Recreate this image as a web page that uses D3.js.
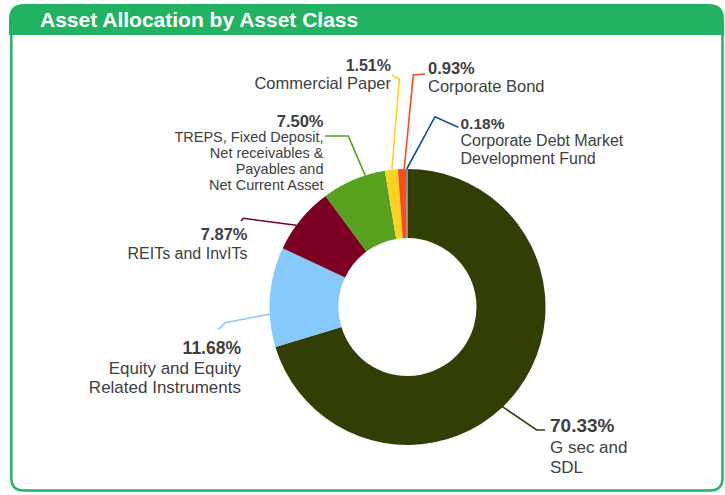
<!DOCTYPE html>
<html>
<head>
<meta charset="utf-8">
<script src="https://cdn.jsdelivr.net/npm/d3@7"></script>
<style>
  body { margin: 0; background: #fff; }
  svg { display: block; font-family: "Liberation Sans", Arial, sans-serif; }
</style>
</head>
<body>
<svg id="chart" width="725" height="495"></svg>
<script>
const title = 'Asset Allocation by Asset Class';
const categories = [
  'G sec and SDL',
  'Equity and Equity Related Instruments',
  'REITs and InvITs',
  'TREPS, Fixed Deposit, Net receivables & Payables and Net Current Asset',
  'Commercial Paper',
  'Corporate Bond',
  'Corporate Debt Market Development Fund'
];
const values = [70.33, 11.68, 7.87, 7.50, 1.51, 0.93, 0.18];
const labelLines = [
  ['G sec and', 'SDL'],
  ['Equity and Equity', 'Related Instruments'],
  ['REITs and InvITs'],
  ['TREPS, Fixed Deposit,', 'Net receivables &', 'Payables and', 'Net Current Asset'],
  ['Commercial Paper'],
  ['Corporate Bond'],
  ['Corporate Debt Market', 'Development Fund']
];
const colors = ['#323f04', '#86c9fc', '#7b0023', '#58a11f', '#fdd222', '#ff4b19', '#7d8590'];
const lineColors = ['#323f04', '#86c9fc', '#7b0023', '#58a11f', '#fdd222', '#ff4b19', '#0b4f97'];

// label layout: where along the slice the leader starts (t), leader bends, text spot
const layout = [
  { t: 0.54, r: 134, pts: [[536.7, 430], [545, 430]], x: 550, anchor: 'start', y: 432, pctSize: 19, size: 17, lh: 20.5 },
  { t: 0.33, r: 137, pts: [[225, 322.7], [218.3, 330]], x: 241, anchor: 'end', y: 354, pctSize: 17.5, size: 17, lh: 19.5 },
  { t: 0.39, r: 138, pts: [[243.3, 218.3], [241, 221]], x: 247.5, anchor: 'end', y: 240, pctSize: 16.5, size: 16, lh: 18.5 },
  { t: 0.69, r: 138, pts: [[348.3, 136], [325, 136]], x: 323.5, anchor: 'end', y: 126.5, pctSize: 16.5, size: 14.5, lh: 15.8 },
  { t: 0.54, r: 138, pts: [[399.3, 79.3], [391.7, 75]], x: 391, anchor: 'end', y: 71, pctSize: 16, size: 16.5, lh: 18 },
  { t: 0.78, r: 138, pts: [[413.3, 75], [425, 74]], x: 428, anchor: 'start', y: 73.5, pctSize: 16.5, size: 16.5, lh: 18.5 },
  { t: 0.5, r: 138, pts: [[435, 116.7], [458.3, 127.3]], x: 460.5, anchor: 'start', y: 128.5, pctSize: 15.5, size: 16, lh: 17.5 }
];

const svg = d3.select('#chart');
const green = '#22b362';

// frame
svg.append('path')
  .attr('d', 'M11.3,20 L11.3,478 Q11.3,490.5 23.8,490.5 L710,490.5 Q722.5,490.5 722.5,478 L722.5,20')
  .attr('fill', 'none')
  .attr('stroke', green)
  .attr('stroke-width', 2.5);

svg.append('path')
  .attr('d', 'M9,35 L9,19 Q9,4 24,4 L709,4 Q724,4 724,19 L724,35 Z')
  .attr('fill', green);

svg.append('text')
  .attr('x', 40)
  .attr('y', 26.5)
  .attr('fill', '#fff')
  .attr('font-weight', 'bold')
  .attr('font-size', 21)
  .text(title);

// donut
const cx = 407.5, cy = 307;
const outerR = 138, innerR = 69;

const pie = d3.pie().sort(null).value((d) => d)(values);
const arc = d3.arc().innerRadius(innerR).outerRadius(outerR);

const g = svg.append('g').attr('transform', `translate(${cx},${cy})`);

g.selectAll('path.slice')
  .data(pie)
  .enter()
  .append('path')
  .attr('class', 'slice')
  .attr('d', arc)
  .attr('fill', (d, i) => colors[i]);

// leader lines + labels
const labels = svg.append('g');
pie.forEach((d, i) => {
  const L = layout[i];
  const a = d.startAngle + (d.endAngle - d.startAngle) * L.t;
  const start = [cx + L.r * Math.sin(a), cy - L.r * Math.cos(a)];
  labels.append('path')
    .attr('d', d3.line()([start, ...L.pts]))
    .attr('fill', 'none')
    .attr('stroke', lineColors[i])
    .attr('stroke-width', 1.6);

  const t = labels.append('text')
    .attr('text-anchor', L.anchor)
    .attr('fill', '#404040');
  t.append('tspan')
    .attr('x', L.x)
    .attr('y', L.y)
    .attr('font-weight', 'bold')
    .attr('font-size', L.pctSize)
    .text(d3.format('.2f')(values[i]) + '%');
  labelLines[i].forEach((line, k) => {
    t.append('tspan')
      .attr('x', L.x)
      .attr('y', L.y + L.lh * (k + 1))
      .attr('font-size', L.size)
      .text(line);
  });
});
</script>
</body>
</html>
